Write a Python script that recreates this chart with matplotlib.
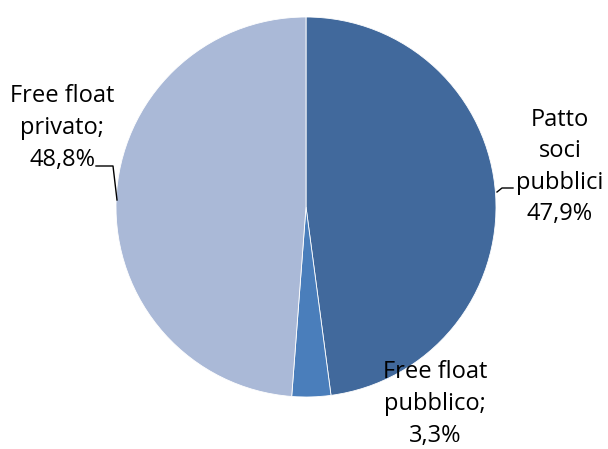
import matplotlib.pyplot as plt

# Data
labels = ["Patto\nsoci\npubblici\n47,9%", "Free float\npubblico;\n3,3%", "Free float\nprivato;\n48,8%"]
values = [47.9, 3.3, 48.8]
colors = ["#41699c", "#4a7ebb", "#aab9d7"]

plt.rcParams['font.family'] = ['Open Sans', 'DejaVu Sans']

fig = plt.figure(figsize=(6.08, 4.49), dpi=100)
ax = fig.add_axes([0, 0, 1, 1])

# pie in pixel coordinates (y measured up from bottom)
ax.pie(values, colors=colors, startangle=90, counterclock=False,
       center=(306, 449 - 207), radius=190,
       wedgeprops=dict(edgecolor="white", linewidth=0.6))

# pie() resets the limits, so set them afterwards
ax.set_xlim(0, 608)
ax.set_ylim(0, 449)
ax.set_aspect('equal')
ax.axis('off')

fs = 17
ls = 1.42
ax.text(560, 449 - 167, labels[0], ha="center", va="center", fontsize=fs, linespacing=ls)
ax.text(435, 449 - 404, labels[1], ha="center", va="center", fontsize=fs, linespacing=ls)
ax.text(62, 449 - 128, labels[2], ha="center", va="center", fontsize=fs, linespacing=ls)

# leader lines
ax.plot([497, 502, 513], [449 - 192, 449 - 188, 449 - 188], color="black", lw=1)
ax.plot([96, 113, 117], [449 - 166, 449 - 166, 449 - 200], color="black", lw=1)

fig.savefig("out.png", dpi=100)
